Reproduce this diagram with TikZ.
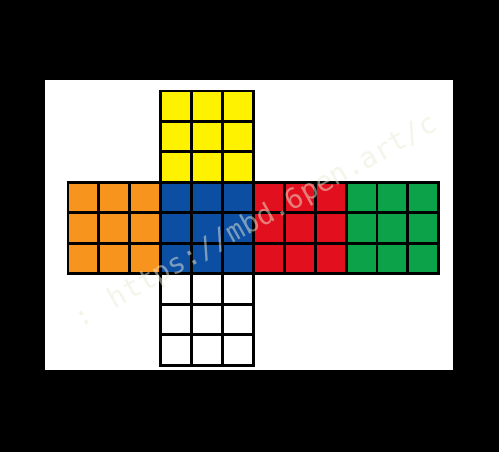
\documentclass[tikz,border=0pt]{standalone}
\usepackage{fontspec}
\newfontfamily\markfont{DejaVu Sans Mono}
\definecolor{cubeyellow}{RGB}{255,242,0}
\definecolor{cubeorange}{RGB}{247,148,29}
\definecolor{cubeblue}{RGB}{11,78,162}
\definecolor{cubered}{RGB}{226,16,30}
\definecolor{cubegreen}{RGB}{12,162,74}
\definecolor{markgray}{RGB}{235,235,215}
\tikzset{
  sticker/.style={draw=black, line width=2.2pt},
  watermark/.style={text=markgray, text opacity=0.5, font=\markfont\fontsize{21}{21}\selectfont, inner sep=0pt}
}
\begin{document}
\begin{tikzpicture}[x=0.75pt,y=-0.75pt]
\fill[black] (0,0) rectangle (499,452);
\fill[white] (45,80) rectangle (453,370);

% the six faces of the net
\foreach \fc/\col/\row in {cubeyellow/3/0, cubeorange/0/3, cubeblue/3/3, cubered/6/3, cubegreen/9/3, white/3/6} {
  \foreach \i in {0,1,2} {
    \foreach \j in {0,1,2}
      \filldraw[sticker, fill=\fc] ({68+(\col+\i)*30.9},{91+(\row+\j)*30.45}) rectangle ++(30.9,30.45);
  }
}

\node[watermark, rotate=29] (mark) at (256,222) {: https://mbd.6pen.art/c};
\end{tikzpicture}
\end{document}
